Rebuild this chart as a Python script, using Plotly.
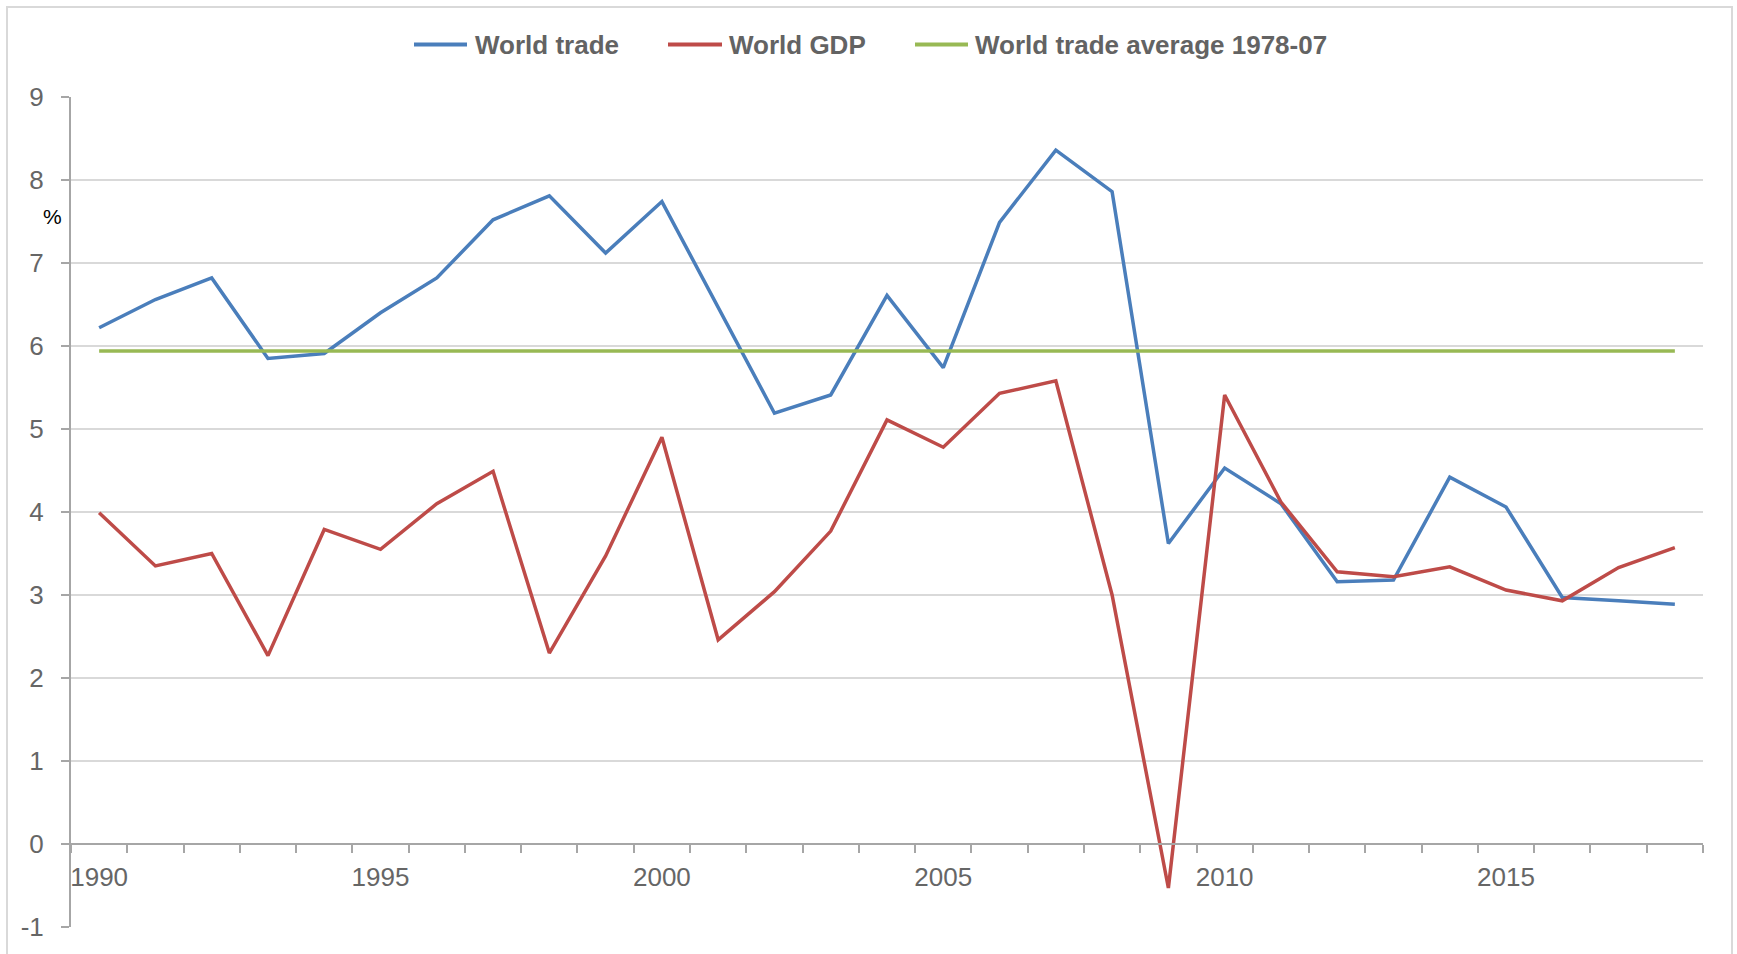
import plotly.graph_objects as go

# Annual growth, %
years = list(range(1990, 2019))
world_trade = [6.22, 6.56, 6.82, 5.85, 5.91, 6.40, 6.82, 7.52, 7.81, 7.12,
               7.74, 6.46, 5.19, 5.41, 6.61, 5.74, 7.49, 8.36, 7.86, 3.62,
               4.53, 4.10, 3.16, 3.18, 4.42, 4.06, 2.97, 2.93, 2.89]
world_gdp = [3.99, 3.35, 3.50, 2.27, 3.79, 3.55, 4.10, 4.49, 2.30, 3.47,
             4.90, 2.46, 3.04, 3.77, 5.11, 4.78, 5.43, 5.58, 3.00, -0.53,
             5.41, 4.12, 3.28, 3.22, 3.34, 3.06, 2.93, 3.33, 3.57]
trade_avg_1978_07 = 5.94

series_names = ["World trade", "World GDP", "World trade average 1978-07"]
series_colors = ["#4A7EBB", "#BE4B48", "#98B954"]

x_tick_vals = [1990, 1995, 2000, 2005, 2010, 2015]
x_tick_text = ["1990", "1995", "2000", "2005", "2010", "2015"]
y_tick_vals = [-1, 0, 1, 2, 3, 4, 5, 6, 7, 8, 9]
y_tick_text = ["-1", "0", "1", "2", "3", "4", "5", "6", "7", "8", "9"]
y_range = [-1, 9]

W, H = 1737, 954
L, R, T, B = 71, 34, 97, 27
PW, PH = W - L - R, H - T - B


def px_x(x):
    return (x - L) / PW


def px_y(y):
    return (H - B - y) / PH


FONT = "Liberation Sans, Arial, sans-serif"
TEXT_GREY = "#636363"
TICK_GREY = "#666666"
AXIS_GREY = "#A6A6A6"
GRID_GREY = "#D9D9D9"

fig = go.Figure()
avg_line = [trade_avg_1978_07] * len(years)
for name, ys, color in zip(series_names, [world_trade, world_gdp, avg_line], series_colors):
    fig.add_trace(go.Scatter(x=years, y=ys, mode="lines", name=name,
                             line=dict(color=color, width=3.5),
                             showlegend=False))

# category boundaries carry the tick marks, labels sit at category centres
boundaries = [y - 0.5 for y in years] + [years[-1] + 0.5]

fig.update_layout(
    width=W, height=H,
    margin=dict(l=L, r=R, t=T, b=B),
    paper_bgcolor="white", plot_bgcolor="white",
    font=dict(family=FONT, size=26, color=TEXT_GREY),
    xaxis=dict(
        range=[boundaries[0], boundaries[-1]],
        tickmode="array", tickvals=x_tick_vals, ticktext=x_tick_text,
        ticks="", showgrid=False, zeroline=False,
        showline=True, linecolor=AXIS_GREY, linewidth=2,
        anchor="free", position=(0 - y_range[0]) / (y_range[1] - y_range[0]),
        tickfont=dict(size=26, color=TICK_GREY),
        ticklabelstandoff=10,
        minor=dict(tickmode="array", tickvals=boundaries, ticks="outside",
                   ticklen=8, tickwidth=1.5, tickcolor=AXIS_GREY, showgrid=False),
    ),
    yaxis=dict(
        range=y_range, tickmode="array", tickvals=y_tick_vals, ticktext=y_tick_text,
        showgrid=True, gridcolor=GRID_GREY, gridwidth=2,
        zeroline=False, showline=True, linecolor=AXIS_GREY, linewidth=2,
        ticks="outside", ticklen=8, tickwidth=1.5, tickcolor=AXIS_GREY,
        tickfont=dict(size=26, color=TICK_GREY),
        ticklabelstandoff=12,
    ),
)

# outer chart border
fig.add_shape(type="rect", xref="paper", yref="paper",
              x0=px_x(7), x1=px_x(1732), y0=px_y(7), y1=px_y(980),
              line=dict(color=GRID_GREY, width=2), fillcolor="rgba(0,0,0,0)",
              layer="below")

# axis unit label
fig.add_annotation(text="%", xref="paper", yref="paper",
                   x=px_x(52), y=px_y(216), xanchor="center", yanchor="middle",
                   showarrow=False, font=dict(family=FONT, size=21, color="black"))

# legend row across the top
legend_items = [(414, 467, 473), (668, 722, 727), (915, 968, 973)]
legend_y = 44.5
for (x0, x1, tx), name, color in zip(legend_items, series_names, series_colors):
    fig.add_shape(type="line", xref="paper", yref="paper",
                  x0=px_x(x0), x1=px_x(x1), y0=px_y(legend_y), y1=px_y(legend_y),
                  line=dict(color=color, width=4))
    fig.add_annotation(text="<b>%s</b>" % name, xref="paper", yref="paper",
                       x=px_x(tx), y=px_y(legend_y), xanchor="left", yanchor="middle",
                       showarrow=False,
                       font=dict(family=FONT, size=26, color=TEXT_GREY))

fig.write_html("out.html")
